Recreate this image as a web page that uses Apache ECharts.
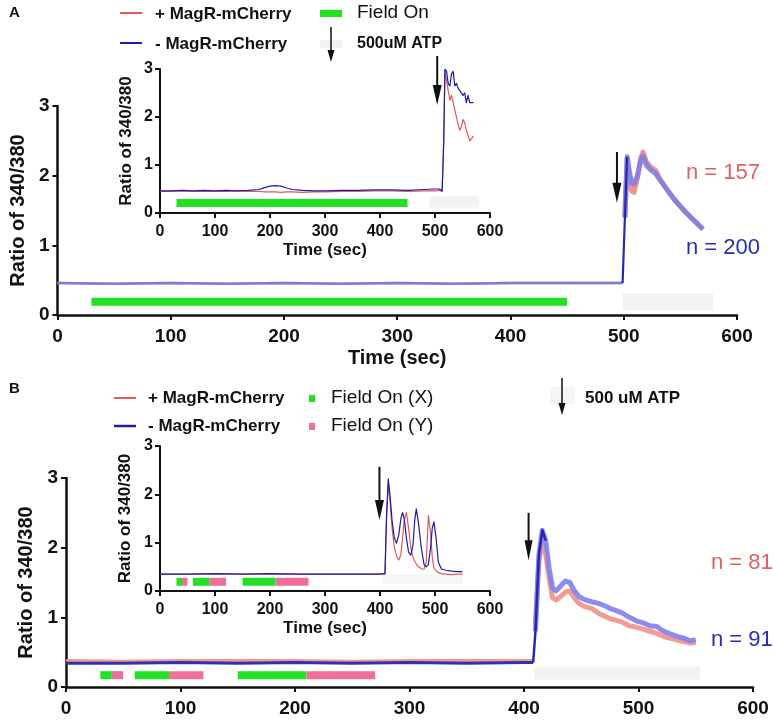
<!DOCTYPE html>
<html>
<head>
<meta charset="UTF-8">
<title>Ratio of 340/380</title>
<script src="https://cdn.jsdelivr.net/npm/echarts/dist/echarts.min.js"></script>
<style>
	html, body { margin: 0; padding: 0; background: #fff; }
	#main { width: 773px; height: 722px; }
</style>
</head>
<body>
<div id="main"></div>
<script>
	// ---- panel A, main trace ----
	let aMainTime = [0, 50, 100, 150, 200, 250, 300, 350, 400, 450, 490, 499, 501, 503, 505, 507, 509, 512, 515, 517, 520, 524, 528, 532, 536, 540, 545, 550, 555, 560, 565, 570];
	let aMainRed  = [.46, .45, .46, .45, .46, .45, .46, .45, .46, .46, .46, .46, 1.4, 2.25, 2.0, 1.78, 1.76, 1.95, 2.25, 2.34, 2.2, 2.12, 2.08, 1.95, 1.85, 1.76, 1.65, 1.56, 1.47, 1.39, 1.31, 1.23];
	let aMainBlue = [.46, .45, .46, .45, .46, .45, .46, .45, .46, .46, .46, .46, 1.4, 2.27, 2.05, 1.9, 1.88, 2.0, 2.22, 2.28, 2.15, 2.08, 2.03, 1.94, 1.85, 1.76, 1.65, 1.56, 1.47, 1.39, 1.31, 1.23];

	// ---- panel A, inset (single cell) ----
	let aInTime = [0, 20, 40, 60, 80, 100, 120, 140, 160, 180, 190, 200, 210, 220, 230, 240, 260, 280, 300, 330, 360, 390, 420, 450, 480, 500, 508, 513, 516, 518, 521, 524, 527, 530, 533, 536, 539, 542, 545, 548, 551, 554, 557, 560, 563, 566, 570];
	let aInRed  = [.45, .45, .46, .45, .45, .45, .45, .46, .45, .45, .44, .44, .44, .43, .44, .44, .43, .44, .44, .45, .45, .46, .46, .45, .46, .46, .47, .45, 1.6, 2.95, 2.75, 2.55, 2.35, 2.45, 2.3, 2.15, 2.0, 1.85, 1.72, 1.8, 1.95, 1.88, 1.72, 1.62, 1.5, 1.47, 1.6];
	let aInBlue = [.46, .46, .47, .46, .47, .46, .47, .46, .47, .49, .53, .56, .57, .56, .52, .49, .47, .46, .46, .47, .47, .48, .48, .47, .49, .5, .5, .46, 1.5, 3.0, 2.95, 2.7, 2.65, 2.9, 2.95, 2.65, 2.7, 2.6, 2.55, 2.55, 2.45, 2.5, 2.3, 2.45, 2.3, 2.28, 2.3];

	let aField = [[30, 450]];
	let aAtpMain = [[499, 579]];
	let aAtpIn = [[490, 580]];
	let aArrowMain = [[494, 2.34, 1.61]];   // time, top, tip
	let aArrowIn = [[504, 3.27, 2.25]];

	// ---- panel B, main trace ----
	let bMainTime = [0, 50, 100, 150, 200, 250, 300, 350, 400, 408, 410, 413, 416, 419, 422, 425, 428, 432, 436, 440, 444, 448, 452, 456, 460, 465, 470, 475, 480, 486, 492, 498, 504, 510, 516, 520, 525, 530, 535, 540, 545, 550];
	let bMainBlue = [.34, .34, .35, .34, .35, .34, .35, .34, .35, .35, .8, 1.9, 2.25, 2.1, 1.7, 1.42, 1.38, 1.45, 1.52, 1.5, 1.38, 1.3, 1.26, 1.24, 1.22, 1.2, 1.17, 1.13, 1.1, 1.06, 1.0, .95, .92, .88, .87, .82, .78, .75, .72, .7, .66, .68];
	let bMainRed  = [.38, .37, .38, .38, .38, .37, .38, .38, .38, .38, .9, 1.8, 2.1, 1.9, 1.55, 1.28, 1.25, 1.3, 1.36, 1.38, 1.28, 1.2, 1.16, 1.14, 1.12, 1.06, 1.02, .98, .96, .93, .88, .86, .83, .8, .77, .74, .71, .69, .67, .65, .63, .64];

	// ---- panel B, inset (single cell) ----
	let bInTime = [0, 50, 100, 150, 200, 250, 300, 350, 400, 409, 412, 415, 418, 422, 426, 430, 434, 438, 441, 444, 448, 452, 456, 460, 463, 466, 470, 475, 480, 484, 488, 492, 495, 498, 502, 506, 512, 520, 530, 540, 550];
	let bInBlue = [.35, .35, .36, .35, .36, .35, .35, .35, .35, .36, 1.6, 2.32, 2.0, 1.45, 1.1, .99, 1.15, 1.5, 1.62, 1.5, 1.1, .8, .74, .95, 1.45, 1.7, 1.4, .9, .55, .5, .55, .9, 1.3, 1.43, 1.1, .6, .45, .43, .41, .4, .4];
	let bInRed  = [.35, .35, .35, .35, .35, .35, .35, .35, .35, .35, 1.5, 2.2, 1.9, 1.3, .9, .72, .64, .75, 1.1, 1.45, 1.62, 1.3, .9, .7, .62, .56, .5, .46, .45, .6, 1.56, 1.2, .7, .48, .42, .38, .36, .35, .34, .35, .35];

	let bFieldX = [[30, 40], [60, 90], [150, 210]];
	let bFieldY = [[40, 50], [90, 120], [210, 270]];
	let bAtpMain = [[409, 554]];
	let bAtpIn = [[405, 550]];
	let bArrowMain = [[404, 2.5, 1.82]];
	let bArrowIn = [[399, 2.57, 1.47]];

	let xTicks = [0, 100, 200, 300, 400, 500, 600];
	let yTicks = [0, 1, 2, 3];

	const FONT = "'Liberation Sans', Arial, Helvetica, sans-serif";
	const RED = '#e25a5a', BLUE = '#1c1ca8', GREEN = '#22e022', PINK = '#ee6f9a', GREY = '#f2f2f2';

	let myChart = echarts.init(document.getElementById('main'));

	function xAxis(i, main, title){
		return {
			type: 'value', gridIndex: i, min: xTicks[0], max: xTicks[xTicks.length - 1], interval: 100,
			name: title ? 'Time (sec)' : '', nameLocation: 'middle', nameGap: main ? 33 : 29,
			nameTextStyle: {fontFamily: FONT, fontWeight: 'bold', fontSize: main ? 20 : 17, color: '#111'},
			axisLine: {show: true, onZero: false, lineStyle: {color: '#111', width: main ? 2.5 : 2}},
			axisTick: {show: true, length: 5, lineStyle: {color: '#111', width: 2}},
			axisLabel: {fontFamily: FONT, fontWeight: 'bold', fontSize: main ? 19 : 16, color: '#111', margin: main ? 12 : 11},
			splitLine: {show: false}
		};
	}
	function yAxis(i, main, gap){
		return {
			type: 'value', gridIndex: i, min: yTicks[0], max: yTicks[yTicks.length - 1], interval: 1,
			name: 'Ratio of 340/380', nameLocation: 'middle', nameGap: gap,
			nameTextStyle: {fontFamily: FONT, fontWeight: 'bold', fontSize: main ? 20 : 17, color: '#111'},
			axisLine: {show: true, onZero: false, lineStyle: {color: '#111', width: main ? 2.5 : 2}},
			axisTick: {show: true, length: 5, lineStyle: {color: '#111', width: 2}},
			axisLabel: {fontFamily: FONT, fontWeight: 'bold', fontSize: main ? 19 : 16, color: '#111', margin: main ? 8 : 7},
			splitLine: {show: false}
		};
	}
	// a trace, optionally only the points from..to (inclusive)
	function trace(i, t, v, color, width, z, from, to){
		let pts = t.map((x, k) => [x, v[k]]).slice(from || 0, to == null ? t.length : to + 1);
		return {
			type: 'line', xAxisIndex: i, yAxisIndex: i, data: pts,
			symbol: 'none', lineStyle: {color: color, width: width, join: 'round'}, itemStyle: {color: color},
			z: z, silent: true, animation: false
		};
	}
	// horizontal bars (field on / ATP) drawn through the axis scales
	function bars(i, ranges, level, h, color){
		return {
			type: 'custom', xAxisIndex: i, yAxisIndex: i, silent: true, animation: false, z: 1,
			data: ranges.map(r => [r[0], r[1], level]),
			encode: {x: [0, 1], y: 2},
			renderItem: function(params, api){
				let a = api.coord([api.value(0), api.value(2)]);
				let b = api.coord([api.value(1), api.value(2)]);
				return {type: 'rect', shape: {x: a[0], y: a[1] - h / 2, width: b[0] - a[0], height: h}, style: {fill: color}};
			}
		};
	}
	// downward ATP arrow: shaft from top value to tip value
	function arrow(i, data, w, hLen){
		return {
			type: 'custom', xAxisIndex: i, yAxisIndex: i, silent: true, animation: false, z: 6, clip: false,
			data: data, encode: {x: 0, y: [1, 2]},
			renderItem: function(params, api){
				let top = api.coord([api.value(0), api.value(1)]);
				let tip = api.coord([api.value(0), api.value(2)]);
				return {type: 'group', children: [
					{type: 'line', shape: {x1: top[0], y1: top[1], x2: tip[0], y2: tip[1] - hLen + 2}, style: {stroke: '#111', lineWidth: 2}},
					{type: 'polygon', shape: {points: [[tip[0] - w / 2, tip[1] - hLen], [tip[0] + w / 2, tip[1] - hLen], [tip[0], tip[1]]]}, style: {fill: '#111'}}
				]};
			}
		};
	}

	// graphic helpers for legends / annotations
	function txt(x, y, s, size, weight, color){
		return {type: 'text', x: x, y: y, silent: true, style: {text: s, fontSize: size, fontWeight: weight, fontFamily: FONT, fill: color || '#111', align: 'left', verticalAlign: 'middle'}};
	}
	function seg(x1, y1, x2, y2, color, w){
		return {type: 'line', silent: true, shape: {x1: x1, y1: y1, x2: x2, y2: y2}, style: {stroke: color, lineWidth: w}};
	}
	function box(x, y, w, h, color){
		return {type: 'rect', silent: true, shape: {x: x, y: y, width: w, height: h}, style: {fill: color}};
	}
	function downArrow(x, y1, y2){
		return [
			seg(x, y1, x, y2 - 10, '#111', 1.5),
			{type: 'polygon', silent: true, shape: {points: [[x - 3.5, y2 - 12], [x + 3.5, y2 - 12], [x, y2]]}, style: {fill: '#111'}}
		];
	}

	let graphic = [].concat(
		[txt(9, 13, 'A', 15, 'bold'),
		 seg(120, 13, 142, 13, RED, 2), txt(155, 14, '+ MagR-mCherry', 17, 'bold'),
		 box(320, 10, 22, 7, GREEN), txt(357, 13, 'Field On', 19, 'normal'),
		 seg(120, 43, 142, 43, BLUE, 2), txt(155, 44, '- MagR-mCherry', 17, 'bold'),
		 box(320, 40, 22, 8, GREY), txt(357, 44, '500uM ATP', 16, 'bold')],
		downArrow(331, 27, 62),
		[txt(686, 173, 'n = 157', 22, 'normal', '#e0605e'),
		 txt(686, 248, 'n = 200', 22, 'normal', '#2a2ab8'),
		 txt(9, 389, 'B', 15, 'bold'),
		 seg(114, 398, 136, 398, RED, 2), txt(148, 398, '+ MagR-mCherry', 17, 'bold'),
		 box(309, 395, 6, 7, GREEN), txt(331, 398, 'Field On (X)', 19, 'normal'),
		 seg(114, 426, 136, 426, BLUE, 2.5), txt(148, 426, '- MagR-mCherry', 17, 'bold'),
		 box(309, 423, 6, 7, PINK), txt(331, 426, 'Field On (Y)', 19, 'normal'),
		 box(550, 387, 25, 17, '#f5f5f5'), txt(585, 398, '500 uM ATP', 17, 'bold')],
		downArrow(562, 378, 415),
		[txt(711, 563, 'n = 81', 22, 'normal', '#e0605e'),
		 txt(711, 640, 'n = 91', 22, 'normal', '#2a2ab8')]
	);

	myChart.setOption({
		backgroundColor: '#fff',
		animation: false,
		grid: [
			{left: 48, top: 106, width: 689, height: 209},
			{left: 160, top: 69, width: 330, height: 144},
			{left: 66, top: 478, width: 687, height: 209},
			{left: 160, top: 446, width: 330, height: 145}
		],
		xAxis: [xAxis(0, true, true), xAxis(1, false, true), xAxis(2, true, false), xAxis(3, false, true)],
		yAxis: [yAxis(0, true, 23), yAxis(1, false, 25), yAxis(2, true, 23), yAxis(3, false, 26)],
		graphic: graphic,
		series: [
			// A main: thin baseline, thick band after ATP, dark rising edge
			bars(0, aField, 0.19, 8, GREEN),
			bars(0, aAtpMain, 0.19, 17, GREY),
			trace(0, aMainTime, aMainRed, 'rgba(238,150,150,0.9)', 2.5, 2, 0, 11),
			trace(0, aMainTime, aMainBlue, '#7c7cdc', 2.5, 3, 0, 11),
			trace(0, aMainTime, aMainRed, 'rgba(238,140,140,0.95)', 5, 2, 12),
			trace(0, aMainTime, aMainBlue, 'rgba(128,128,228,0.9)', 5, 3, 12),
			trace(0, aMainTime, aMainBlue, '#2626b4', 2.2, 4, 11, 13),
			arrow(0, aArrowMain, 9, 20),
			// A inset
			bars(1, aField, 0.21, 8, GREEN),
			bars(1, aAtpIn, 0.23, 11, GREY),
			trace(1, aInTime, aInRed, RED, 1.2, 2),
			trace(1, aInTime, aInBlue, BLUE, 1.2, 3),
			arrow(1, aArrowIn, 9, 20),
			// B main
			bars(2, bFieldX, 0.17, 8, GREEN),
			bars(2, bFieldY, 0.17, 8, PINK),
			bars(2, bAtpMain, 0.2, 13, GREY),
			trace(2, bMainTime, bMainRed, 'rgba(240,140,130,0.9)', 3, 2, 0, 9),
			trace(2, bMainTime, bMainBlue, '#3030b4', 3, 3, 0, 9),
			trace(2, bMainTime, bMainRed, 'rgba(242,150,140,0.95)', 5, 2, 10),
			trace(2, bMainTime, bMainBlue, 'rgba(128,128,238,0.9)', 5, 3, 10),
			trace(2, bMainTime, bMainBlue, '#2626b4', 2.5, 4, 9, 13),
			arrow(2, bArrowMain, 8, 20),
			// B inset
			bars(3, bFieldX, 0.19, 8, GREEN),
			bars(3, bFieldY, 0.19, 8, PINK),
			bars(3, bAtpIn, 0.25, 10, '#f6f6f6'),
			trace(3, bInTime, bInRed, RED, 1.2, 2),
			trace(3, bInTime, bInBlue, BLUE, 1.2, 3),
			arrow(3, bArrowIn, 9, 20)
		]
	});
</script>
</body>
</html>
